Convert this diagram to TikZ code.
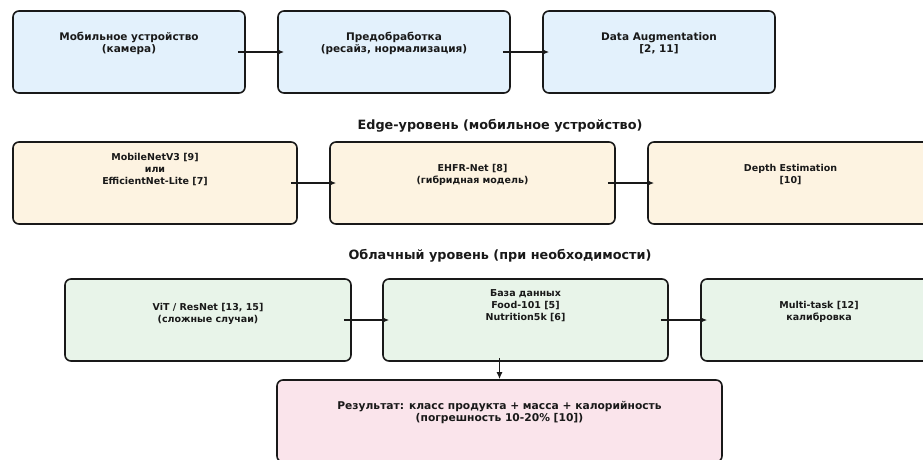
\documentclass[tikz,border=0pt]{standalone}
\usepackage{fontspec}
\setmainfont{DejaVu Sans}
\usetikzlibrary{arrows.meta}
\definecolor{inputfill}{RGB}{227,241,252}
\definecolor{edgefill}{RGB}{253,243,225}
\definecolor{cloudfill}{RGB}{232,244,233}
\definecolor{resultfill}{RGB}{250,228,235}

\begin{document}
\begin{tikzpicture}[x=1pt, y=-1pt,
    stage/.style={draw=black!90, line width=1.6pt, rounded corners=6pt,
        minimum height=82pt, inner sep=0pt},
    txt/.style={align=center, text=black!90, font=\bfseries\fontsize{#1}{12}\selectfont},
    txt/.default=9.5,
    tier/.style={text=black!90, font=\bfseries\fontsize{12.8}{15}\selectfont},
    flow/.style={draw=black!90, line width=1.5pt, -{Latex[length=7pt,width=6pt]}}]
    \useasboundingbox (0,0) rectangle (923,459);
    % input row
    \node[stage, fill=inputfill, minimum width=232pt,
        label={[txt=10.5, yshift=9pt]center:{Мобильное устройство\\(камера)}}] (cam) at (129,52) {};
    \node[stage, fill=inputfill, minimum width=232pt,
        label={[txt=10.5, yshift=9pt]center:{Предобработка\\(ресайз, нормализация)}}] (prep) at (394,52) {};
    \node[stage, fill=inputfill, minimum width=232pt,
        label={[txt=10.5, yshift=9pt]center:{Data Augmentation\\{[2, 11]}}}] (aug) at (659,52) {};
    \draw[flow] ([xshift=-8pt]cam.east) -- ([xshift=7pt]prep.west);
    \draw[flow] ([xshift=-8pt]prep.east) -- ([xshift=7pt]aug.west);
    % edge tier
    \node[tier] (edgetitle) at (500,126) {Edge-уровень (мобильное устройство)};
    \node[stage, fill=edgefill, minimum width=284pt,
        label={[txt, yshift=13pt]center:{MobileNetV3 [9]\\или\\EfficientNet-Lite [7]}}] (mnet) at (155,183) {};
    \node[stage, fill=edgefill, minimum width=285pt,
        label={[txt, yshift=8pt]center:{EHFR-Net [8]\\(гибридная модель)}}] (ehfr) at (472.5,183) {};
    \node[stage, fill=edgefill, minimum width=285pt,
        label={[txt, yshift=8pt]center:{Depth Estimation\\{[10]}}}] (depth) at (790.5,183) {};
    \draw[flow] ([xshift=-7pt]mnet.east) -- ([xshift=7pt]ehfr.west);
    \draw[flow] ([xshift=-8pt]ehfr.east) -- ([xshift=7pt]depth.west);
    % cloud tier
    \node[tier] (cloudtitle) at (500,256) {Облачный уровень (при необходимости)};
    \node[stage, fill=cloudfill, minimum width=286pt,
        label={[txt, yshift=6.5pt]center:{ViT / ResNet [13, 15]\\(сложные случаи)}}] (vit) at (208,320) {};
    \node[stage, fill=cloudfill, minimum width=285pt,
        label={[txt, yshift=14pt]center:{База данных\\Food-101 [5]\\Nutrition5k [6]}}] (db) at (525.5,320) {};
    \node[stage, fill=cloudfill, minimum width=236pt,
        label={[txt, yshift=8pt]center:{Multi-task [12]\\калибровка}}] (mtask) at (819,320) {};
    \draw[flow] ([xshift=-8pt]vit.east) -- ([xshift=7pt]db.west);
    \draw[flow] ([xshift=-8pt]db.east) -- ([xshift=7pt]mtask.west);
    % result
    \node[stage, fill=resultfill, minimum width=445pt,
        label={[txt=10.7, yshift=8.5pt]center:{Результат: класс продукта + масса + калорийность\\(погрешность 10-20\% [10])}}] (result) at (499.5,421) {};
    \draw[flow] (result.north |- db.south) ++(0,-4) -- (result.north);
\end{tikzpicture}
\end{document}
